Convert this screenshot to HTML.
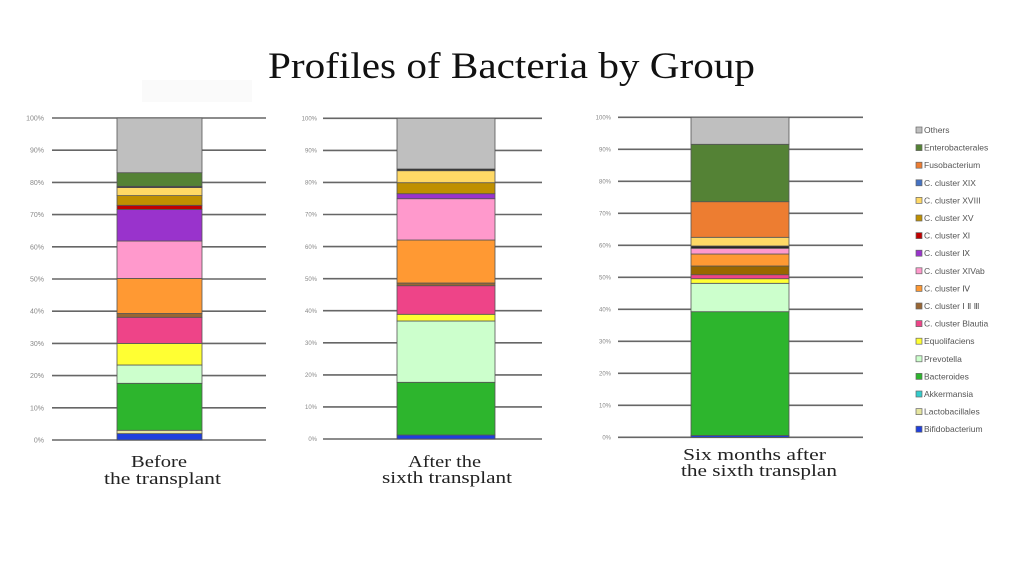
<!DOCTYPE html>
<html><head><meta charset="utf-8"><style>
html,body{margin:0;padding:0;background:#fff;width:1024px;height:576px;overflow:hidden}
svg{display:block}
.t{font-family:"Liberation Sans",sans-serif;font-size:7px;fill:#888}
.c{font-family:"Liberation Serif",serif;font-size:17px;fill:#222}
.lg{font-family:"Liberation Sans",sans-serif;font-size:8.5px;fill:#555}
</style></head><body>
<svg width="1024" height="576" viewBox="0 0 1024 576">
<text x="268" y="78" textLength="487" lengthAdjust="spacingAndGlyphs" font-family="Liberation Serif, serif" font-size="37" fill="#111">Profiles of Bacteria by Group</text>
<rect x="142" y="80" width="110" height="22" fill="#fafafa"/>

<!-- Chart 1 -->
<g stroke="#666" stroke-width="1.6">
<line x1="52" y1="118" x2="266" y2="118"/><line x1="52" y1="150.2" x2="266" y2="150.2"/><line x1="52" y1="182.4" x2="266" y2="182.4"/><line x1="52" y1="214.6" x2="266" y2="214.6"/><line x1="52" y1="246.8" x2="266" y2="246.8"/><line x1="52" y1="279" x2="266" y2="279"/><line x1="52" y1="311.2" x2="266" y2="311.2"/><line x1="52" y1="343.4" x2="266" y2="343.4"/><line x1="52" y1="375.6" x2="266" y2="375.6"/><line x1="52" y1="407.8" x2="266" y2="407.8"/><line x1="52" y1="440" x2="266" y2="440"/>
</g>
<g class="t" text-anchor="end">
<text x="44" y="120.5">100%</text><text x="44" y="152.7">90%</text><text x="44" y="184.9">80%</text><text x="44" y="217.1">70%</text><text x="44" y="249.3">60%</text><text x="44" y="281.5">50%</text><text x="44" y="313.7">40%</text><text x="44" y="345.9">30%</text><text x="44" y="378.1">20%</text><text x="44" y="410.3">10%</text><text x="44" y="442.5">0%</text>
</g>
<g stroke="#555" stroke-width="0.8">
<rect x="117" y="433.6" width="85" height="6.4" fill="#1f3fdd"/>
<rect x="117" y="430.3" width="85" height="3.3" fill="#e6e6a0"/>
<rect x="117" y="383.3" width="85" height="47" fill="#2db52d"/>
<rect x="117" y="365" width="85" height="18.3" fill="#ccffcc"/>
<rect x="117" y="343.4" width="85" height="21.6" fill="#ffff33"/>
<rect x="117" y="317.3" width="85" height="26.1" fill="#ee4488"/>
<rect x="117" y="313.5" width="85" height="3.8" fill="#996633"/>
<rect x="117" y="278.4" width="85" height="35.1" fill="#ff9933"/>
<rect x="117" y="241" width="85" height="37.4" fill="#ff99cc"/>
<rect x="117" y="209.4" width="85" height="31.6" fill="#9933cc"/>
<rect x="117" y="205.3" width="85" height="4.1" fill="#c00000"/>
<rect x="117" y="195.6" width="85" height="9.7" fill="#bf9000"/>
<rect x="117" y="187.6" width="85" height="8" fill="#ffd966"/>
<rect x="117" y="186.3" width="85" height="1.3" fill="#222"/>
<rect x="117" y="172.7" width="85" height="13.6" fill="#548235"/>
<rect x="117" y="118" width="85" height="54.7" fill="#bfbfbf"/>
</g>
<text class="c" x="131" y="467" textLength="56" lengthAdjust="spacingAndGlyphs">Before</text>
<text class="c" x="104" y="484" textLength="117" lengthAdjust="spacingAndGlyphs">the transplant</text>

<!-- Chart 2 -->
<g stroke="#666" stroke-width="1.6">
<line x1="323" y1="118.3" x2="542" y2="118.3"/><line x1="323" y1="150.4" x2="542" y2="150.4"/><line x1="323" y1="182.4" x2="542" y2="182.4"/><line x1="323" y1="214.5" x2="542" y2="214.5"/><line x1="323" y1="246.6" x2="542" y2="246.6"/><line x1="323" y1="278.7" x2="542" y2="278.7"/><line x1="323" y1="310.7" x2="542" y2="310.7"/><line x1="323" y1="342.8" x2="542" y2="342.8"/><line x1="323" y1="374.9" x2="542" y2="374.9"/><line x1="323" y1="406.9" x2="542" y2="406.9"/><line x1="323" y1="439" x2="542" y2="439"/>
</g>
<g class="t" text-anchor="end" style="font-size:6px">
<text x="317" y="120.5">100%</text><text x="317" y="152.6">90%</text><text x="317" y="184.6">80%</text><text x="317" y="216.7">70%</text><text x="317" y="248.8">60%</text><text x="317" y="280.9">50%</text><text x="317" y="312.9">40%</text><text x="317" y="345">30%</text><text x="317" y="377.1">20%</text><text x="317" y="409.1">10%</text><text x="317" y="441.2">0%</text>
</g>
<g stroke="#555" stroke-width="0.8">
<rect x="397" y="435" width="98" height="4" fill="#1f3fdd"/>
<rect x="397" y="382.3" width="98" height="52.7" fill="#2db52d"/>
<rect x="397" y="321" width="98" height="61.3" fill="#ccffcc"/>
<rect x="397" y="314.3" width="98" height="6.7" fill="#ffff33"/>
<rect x="397" y="285.7" width="98" height="28.6" fill="#ee4488"/>
<rect x="397" y="283" width="98" height="2.7" fill="#996633"/>
<rect x="397" y="240" width="98" height="43" fill="#ff9933"/>
<rect x="397" y="198.7" width="98" height="41.3" fill="#ff99cc"/>
<rect x="397" y="193.7" width="98" height="5" fill="#9933cc"/>
<rect x="397" y="182.7" width="98" height="11" fill="#bf9000"/>
<rect x="397" y="170.7" width="98" height="12" fill="#ffd966"/>
<rect x="397" y="169" width="98" height="1.7" fill="#222"/>
<rect x="397" y="118.3" width="98" height="50.7" fill="#bfbfbf"/>
</g>
<text class="c" x="408" y="467" textLength="73" lengthAdjust="spacingAndGlyphs">After the</text>
<text class="c" x="382" y="483" textLength="130" lengthAdjust="spacingAndGlyphs">sixth transplant</text>

<!-- Chart 3 -->
<g stroke="#666" stroke-width="1.6">
<line x1="618" y1="117.3" x2="863" y2="117.3"/><line x1="618" y1="149.3" x2="863" y2="149.3"/><line x1="618" y1="181.3" x2="863" y2="181.3"/><line x1="618" y1="213.3" x2="863" y2="213.3"/><line x1="618" y1="245.3" x2="863" y2="245.3"/><line x1="618" y1="277.3" x2="863" y2="277.3"/><line x1="618" y1="309.3" x2="863" y2="309.3"/><line x1="618" y1="341.3" x2="863" y2="341.3"/><line x1="618" y1="373.3" x2="863" y2="373.3"/><line x1="618" y1="405.3" x2="863" y2="405.3"/><line x1="618" y1="437.3" x2="863" y2="437.3"/>
</g>
<g class="t" text-anchor="end" style="font-size:6px">
<text x="611" y="119.5">100%</text><text x="611" y="151.5">90%</text><text x="611" y="183.5">80%</text><text x="611" y="215.5">70%</text><text x="611" y="247.5">60%</text><text x="611" y="279.5">50%</text><text x="611" y="311.5">40%</text><text x="611" y="343.5">30%</text><text x="611" y="375.5">20%</text><text x="611" y="407.5">10%</text><text x="611" y="439.5">0%</text>
</g>
<g stroke="#555" stroke-width="0.8">
<rect x="691" y="435.5" width="98" height="1.8" fill="#1f3fdd"/>
<rect x="691" y="311.7" width="98" height="123.8" fill="#2db52d"/>
<rect x="691" y="283.3" width="98" height="28.4" fill="#ccffcc"/>
<rect x="691" y="278.7" width="98" height="4.6" fill="#ffff33"/>
<rect x="691" y="274.7" width="98" height="4" fill="#ee4488"/>
<rect x="691" y="266" width="98" height="8.7" fill="#996600"/>
<rect x="691" y="254" width="98" height="12" fill="#ff9933"/>
<rect x="691" y="248.3" width="98" height="5.7" fill="#ff99cc"/>
<rect x="691" y="246" width="98" height="2.3" fill="#222"/>
<rect x="691" y="237.3" width="98" height="8.7" fill="#ffd966"/>
<rect x="691" y="201.7" width="98" height="35.6" fill="#ed7d31"/>
<rect x="691" y="144.3" width="98" height="57.4" fill="#548235"/>
<rect x="691" y="117.3" width="98" height="27" fill="#bfbfbf"/>
</g>
<text class="c" x="683" y="460" textLength="143" lengthAdjust="spacingAndGlyphs">Six months after</text>
<text class="c" x="681" y="476" textLength="156" lengthAdjust="spacingAndGlyphs">the sixth transplan</text>

<!-- Legend -->
<g stroke="#666" stroke-width="0.7">
<rect x="916" y="127" width="6" height="6" fill="#bfbfbf"/>
<rect x="916" y="144.6" width="6" height="6" fill="#548235"/>
<rect x="916" y="162.2" width="6" height="6" fill="#ed7d31"/>
<rect x="916" y="179.8" width="6" height="6" fill="#4472c4"/>
<rect x="916" y="197.4" width="6" height="6" fill="#ffd966"/>
<rect x="916" y="215" width="6" height="6" fill="#bf9000"/>
<rect x="916" y="232.6" width="6" height="6" fill="#c00000"/>
<rect x="916" y="250.2" width="6" height="6" fill="#9933cc"/>
<rect x="916" y="267.8" width="6" height="6" fill="#ff99cc"/>
<rect x="916" y="285.4" width="6" height="6" fill="#ff9933"/>
<rect x="916" y="303" width="6" height="6" fill="#996633"/>
<rect x="916" y="320.6" width="6" height="6" fill="#ee4488"/>
<rect x="916" y="338.2" width="6" height="6" fill="#ffff33"/>
<rect x="916" y="355.8" width="6" height="6" fill="#ccffcc"/>
<rect x="916" y="373.4" width="6" height="6" fill="#2db52d"/>
<rect x="916" y="391" width="6" height="6" fill="#33cccc"/>
<rect x="916" y="408.6" width="6" height="6" fill="#e6e6a0"/>
<rect x="916" y="426.2" width="6" height="6" fill="#1f3fdd"/>
</g>
<g class="lg">
<text x="924" y="133">Others</text>
<text x="924" y="150.6">Enterobacterales</text>
<text x="924" y="168.2">Fusobacterium</text>
<text x="924" y="185.8">C. cluster XIX</text>
<text x="924" y="203.4">C. cluster XVIII</text>
<text x="924" y="221">C. cluster XV</text>
<text x="924" y="238.6">C. cluster Ⅺ</text>
<text x="924" y="256.2">C. cluster Ⅸ</text>
<text x="924" y="273.8">C. cluster XIVab</text>
<text x="924" y="291.4">C. cluster Ⅳ</text>
<text x="924" y="309">C. cluster Ⅰ Ⅱ Ⅲ</text>
<text x="924" y="326.6">C. cluster Blautia</text>
<text x="924" y="344.2">Equolifaciens</text>
<text x="924" y="361.8">Prevotella</text>
<text x="924" y="379.4">Bacteroides</text>
<text x="924" y="397">Akkermansia</text>
<text x="924" y="414.6">Lactobacillales</text>
<text x="924" y="432.2">Bifidobacterium</text>
</g>
</svg>
</body></html>
